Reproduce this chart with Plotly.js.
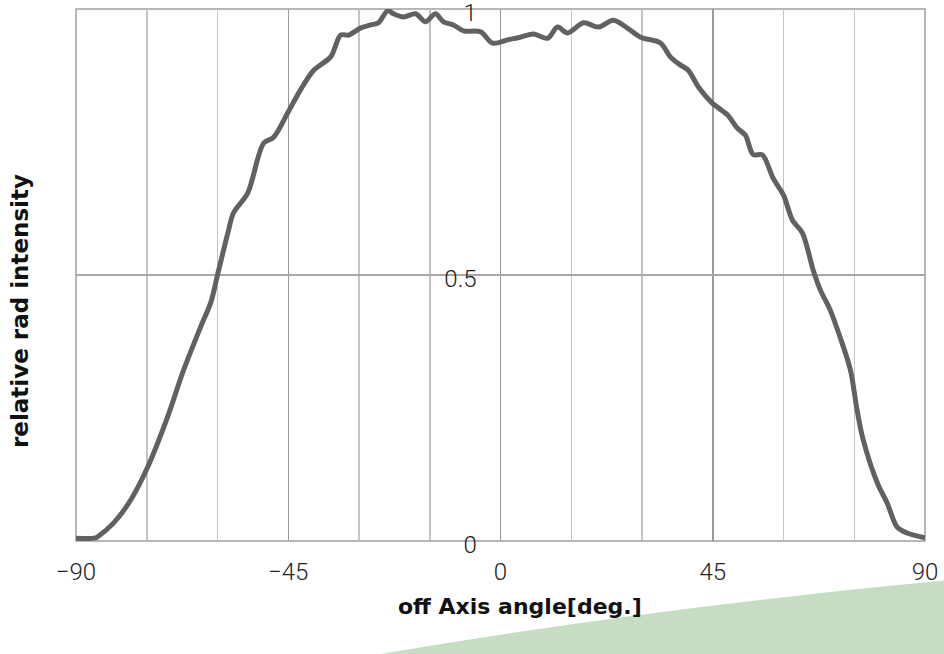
<!DOCTYPE html>
<html>
<head>
<meta charset="utf-8">
<script src="https://cdn.plot.ly/plotly-3.0.1.min.js"></script>
<style>
html,body{margin:0;padding:0;background:#fff;}
#chart{width:944px;height:654px;}
</style>
</head>
<body>
<div id="chart"></div>
<script>
// off-axis angle [deg]
const angleDeg = [-90, -85.8, -85.4, -82.0, -78.4, -74.8, -70.6, -67.2, -63.6, -61.4, -60.0,
  -57.8, -56.6, -53.6, -50.2, -48.1, -45.1, -42.4, -39.6, -36.0, -33.9, -32.2, -29.7, -27.5,
  -25.9, -23.9, -22.7, -20.6, -18.0, -15.9, -13.8, -12.1, -10.0, -7.8, -4.2, -1.7, 1.5, 4.2,
  7.0, 10.0, 12.1, 14.2, 17.6, 20.8, 23.9, 26.9, 29.7, 33.9, 36.0, 38.1, 39.8, 42.0, 44.9,
  48.1, 50.2, 51.9, 53.6, 55.5, 57.8, 60.0, 61.9, 64.0, 66.3, 67.8, 69.9, 72.0, 74.2, 75.6,
  76.9, 79.9, 82.0, 84.1, 86.2, 90];
// relative radiant intensity
const intensity = [0.005, 0.006, 0.008, 0.034, 0.077, 0.139, 0.233, 0.321, 0.402, 0.449, 0.500,
  0.579, 0.617, 0.654, 0.748, 0.759, 0.805, 0.848, 0.885, 0.910, 0.951, 0.951, 0.964, 0.970,
  0.974, 0.997, 0.991, 0.985, 0.991, 0.976, 0.991, 0.976, 0.970, 0.959, 0.957, 0.936, 0.942, 0.947,
  0.953, 0.945, 0.966, 0.955, 0.974, 0.966, 0.979, 0.964, 0.947, 0.936, 0.910, 0.895, 0.885, 0.853, 0.823,
  0.801, 0.776, 0.763, 0.726, 0.726, 0.682, 0.650, 0.603, 0.579, 0.509, 0.472, 0.434, 0.383, 0.321, 0.246,
  0.190, 0.109, 0.071, 0.026, 0.015, 0.006];

const xTickVals = [-90, -45, 0, 45, 90];
const xTickText = ['\u221290', '\u221245', '0', '45', '90'];
const yTickVals = [0, 0.5, 1];
const yTickText = ['0', '0.5', '1'];
const xTitle = 'off Axis angle[deg.]';
const yTitle = 'relative rad intensity';

const trace = {
  x: angleDeg, y: intensity, type: 'scatter', mode: 'lines',
  line: {color: '#616161', width: 5, shape: 'spline', smoothing: 0.9},
  hoverinfo: 'skip', showlegend: false
};

const tickFont = {family: 'Roboto, "Liberation Sans", sans-serif', size: 24, color: '#222', weight: 300};
const xTitleFont = {family: '"DejaVu Sans", Verdana, sans-serif', size: 22, color: '#111', weight: 'bold'};
const yTitleFont = {family: '"DejaVu Sans", Verdana, sans-serif', size: 23, color: '#111', weight: 'bold'};

const layout = {
  width: 944, height: 654,
  margin: {l: 76, r: 19, t: 9, b: 113, pad: 0},
  paper_bgcolor: '#fff', plot_bgcolor: '#fff',
  showlegend: false,
  xaxis: {
    range: [-90, 90], tickvals: xTickVals, ticktext: xTickText,
    showgrid: true, gridcolor: '#9a9a9a', gridwidth: 1.5,
    minor: {dtick: 15, tick0: -90, showgrid: true, gridcolor: '#c4c4c4', gridwidth: 1.5, ticks: ''},
    zeroline: false, showline: false,
    ticks: 'outside', ticklen: 9, tickcolor: 'rgba(0,0,0,0)',
    tickfont: tickFont, fixedrange: true
  },
  yaxis: {
    range: [0, 1], tickvals: yTickVals, ticktext: yTickText,
    anchor: 'free', position: 0.5,
    showgrid: true, gridcolor: '#a8a8a8', gridwidth: 1.5,
    zeroline: false, showline: false,
    ticks: 'outside', ticklen: 19, tickcolor: 'rgba(0,0,0,0)',
    ticklabeloverflow: 'allow', ticklabelshift: 4,
    tickfont: tickFont, fixedrange: true
  },
  shapes: [
    {type: 'path', xref: 'paper', yref: 'paper', layer: 'below',
     path: 'M 0.3585 -0.2124 Q 0.68 -0.125 1.03 -0.0733 L 1.03 -0.22 Z',
     fillcolor: '#c6ddc4', line: {width: 0}},
    {type: 'rect', xref: 'paper', yref: 'paper', x0: 0, x1: 1, y0: 0, y1: 1,
     layer: 'between', line: {color: '#a0a0a0', width: 1.5}}
  ],
  annotations: [
    {text: xTitle, xref: 'paper', yref: 'paper', x: (520 - 76) / 849, y: (541 - 606) / 532,
     xanchor: 'center', yanchor: 'middle', showarrow: false, font: xTitleFont},
    {text: yTitle, xref: 'paper', yref: 'paper', x: (20 - 76) / 849, y: (541 - 311) / 532,
     xanchor: 'center', yanchor: 'middle', textangle: -90, showarrow: false, font: yTitleFont}
  ]
};

Plotly.newPlot('chart', [trace], layout, {displayModeBar: false, staticPlot: true});
</script>
</body>
</html>
